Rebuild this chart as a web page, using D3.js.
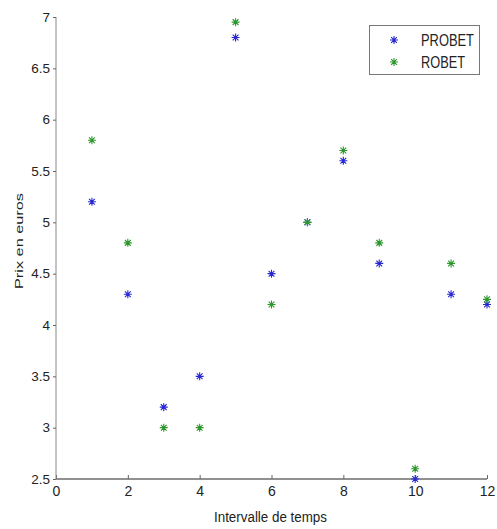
<!DOCTYPE html>
<html><head><meta charset="utf-8">
<script src="https://cdn.jsdelivr.net/npm/d3@7"></script>
<style>body{margin:0;background:#fff}svg{display:block}text{font-family:"Liberation Sans",Arial,sans-serif}</style>
</head><body>
<svg id="c" width="497" height="529"></svg>
<script>
const intervals = [1,2,3,4,5,6,7,8,9,10,11,12];
const probet = [5.2,4.3,3.2,3.5,6.8,4.5,5.0,5.6,4.6,2.5,4.3,4.2];
const robet  = [5.8,4.8,3.0,3.0,6.95,4.2,5.0,5.7,4.8,2.6,4.6,4.25];
const xTicks = [0,2,4,6,8,10,12];
const yTicks = [2.5,3,3.5,4,4.5,5,5.5,6,6.5,7];
const seriesNames = ["PROBET","ROBET"];
const seriesColors = ["#2828d2","#2c982c"];

const svg = d3.select("#c");
const x = d3.scaleLinear().domain([0,12]).range([56,487]);
const y = d3.scaleLinear().domain([2.5,7]).range([479,17]);

// axes
const xa = svg.append("g").attr("transform",`translate(0,${y(2.5)})`)
  .call(d3.axisBottom(x).tickValues(xTicks).tickSize(-4).tickPadding(7).tickFormat(d3.format("d")));
xa.select(".domain").attr("stroke","#222").attr("d",`M${x(0)},0H${x(12)}`);
xa.selectAll(".tick line").attr("stroke","#666");
xa.selectAll("text").attr("font-size",14).attr("fill","#222");

const ya = svg.append("g").attr("transform",`translate(${x(0)},0)`)
  .call(d3.axisLeft(y).tickValues(yTicks).tickSize(3).tickPadding(3).tickFormat(d=>String(d)));
ya.select(".domain").attr("stroke","#888").attr("d",`M0,${y(7)}V${y(2.5)}`);
ya.selectAll(".tick line").attr("stroke","#666");
ya.selectAll("text").attr("font-size",13.5).attr("fill","#222");

svg.append("text").attr("x",270.5).attr("y",522).attr("text-anchor","middle")
  .attr("font-size",14).attr("textLength",113).attr("lengthAdjust","spacingAndGlyphs")
  .attr("fill","#222").text("Intervalle de temps");
svg.append("text").attr("transform","translate(23,241) rotate(-90)").attr("text-anchor","middle")
  .attr("font-size",11.5).attr("textLength",96).attr("lengthAdjust","spacingAndGlyphs")
  .attr("fill","#222").text("Prix en euros");

function star(g, cx, cy, color){
  const r=4, d=r*0.72;
  g.append("path").attr("d",`M${cx-r},${cy}H${cx+r}M${cx},${cy-r}V${cy+r}M${cx-d},${cy-d}L${cx+d},${cy+d}M${cx-d},${cy+d}L${cx+d},${cy-d}`)
   .attr("stroke",color).attr("stroke-width",1.1).attr("fill","none");
}
const all=[probet,robet];
all.forEach((s,i)=>{
  const g=svg.append("g");
  intervals.forEach((t,j)=>star(g,x(t),y(s[j]),seriesColors[i]));
});

// legend
const lg=svg.append("g");
lg.append("rect").attr("x",369.5).attr("y",25.5).attr("width",110).attr("height",49)
  .attr("fill","#fff").attr("stroke","#777");
const legendWidths=[53,44];
seriesNames.forEach((n,i)=>{
  const cy=40+i*22;
  star(lg,394,cy,seriesColors[i]);
  lg.append("text").attr("x",421).attr("y",cy+5.5).attr("font-size",16)
    .attr("textLength",legendWidths[i]).attr("lengthAdjust","spacingAndGlyphs")
    .attr("fill","#222").text(n);
});
</script>
</body></html>
